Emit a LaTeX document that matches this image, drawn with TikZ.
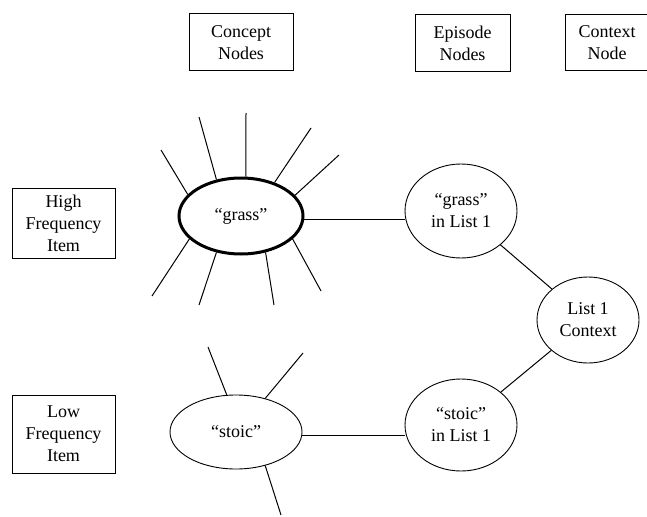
\documentclass[tikz,border=0pt]{standalone}
\usepackage{fontspec}
\setmainfont{Liberation Serif}
\usetikzlibrary{shapes.geometric}
\begin{document}
\begin{tikzpicture}[x=1pt,y=-1pt,
  every node/.style={font=\fontsize{18}{22}\selectfont, align=center},
  labelbox/.style={draw, line width=1pt, inner sep=0pt},
  ell/.style={draw, ellipse, line width=0.9pt, inner sep=0pt},
  link/.style={line width=1pt}]
\useasboundingbox (0,0) rectangle (647,516);
\clip (0,0) rectangle (647,516);
% header boxes
\node[labelbox, minimum width=104pt, minimum height=57pt] (hc) at (241,42.5) {Concept\\Nodes};
\node[labelbox, minimum width=95pt, minimum height=57pt] (he) at (462.5,43.5) {Episode\\Nodes};
\node[labelbox, minimum width=84pt, minimum height=56pt] (hx) at (607,43) {Context\\Node};
% side boxes
\node[labelbox, minimum width=103pt, minimum height=70pt] (hi) at (63.5,223) {High\\Frequency\\Item};
\node[labelbox, minimum width=103pt, minimum height=78pt] (lo) at (63.5,434) {Low\\Frequency\\Item};
% concept nodes
\node[ell, line width=3pt, minimum width=124pt, minimum height=76pt] (gc) at (241,216) {“grass”};
\node[ell, minimum width=132pt, minimum height=74pt] (sc) at (236,432) {“stoic”};
% episode nodes
\node[ell, minimum width=112pt, minimum height=94pt] (ge) at (461,211) {“grass”\\in List 1};
\node[ell, minimum width=112pt, minimum height=92pt] (se) at (461,425) {“stoic”\\in List 1};
\node[ell, minimum width=102pt, minimum height=86pt] (cx) at (588,320) {List 1\\Context};
% spoke ends
\coordinate (g1) at (161,150);
\coordinate (g2) at (199,117);
\coordinate (g3) at (246,113);
\coordinate (g4) at (311,128);
\coordinate (g5) at (339,155);
\coordinate (g7) at (152,296);
\coordinate (g8) at (199,305);
\coordinate (g9) at (274,305);
\coordinate (g10) at (321,291);
\coordinate (s1) at (208,347);
\coordinate (s2) at (303,353);
\coordinate (s3) at (281,515);
% spokes
\draw[link] (gc.158) -- (g1);
\draw[link] (gc.124) -- (g2);
\draw[link] (gc.83) -- (g3);
\draw[link] (gc.45) -- (g4);
\draw[link] (gc.21) -- (g5);
\draw[link] (gc.204) -- (g7);
\draw[link] (gc.236) -- (g8);
\draw[link] (gc.304) -- (g9);
\draw[link] (gc.336) -- (g10);
\draw[link] (sc.104) -- (s1);
\draw[link] (sc.49) -- (s2);
\draw[link] (sc.311) -- (s3);
% connections
\draw[link] (gc.-3) -- (gc.-3 -| ge.west);
\draw[link] (sc.-3) -- (sc.-3 -| se.west);
\draw[link] (ge) -- (cx);
\draw[link] (se) -- (cx);
\end{tikzpicture}
\end{document}
